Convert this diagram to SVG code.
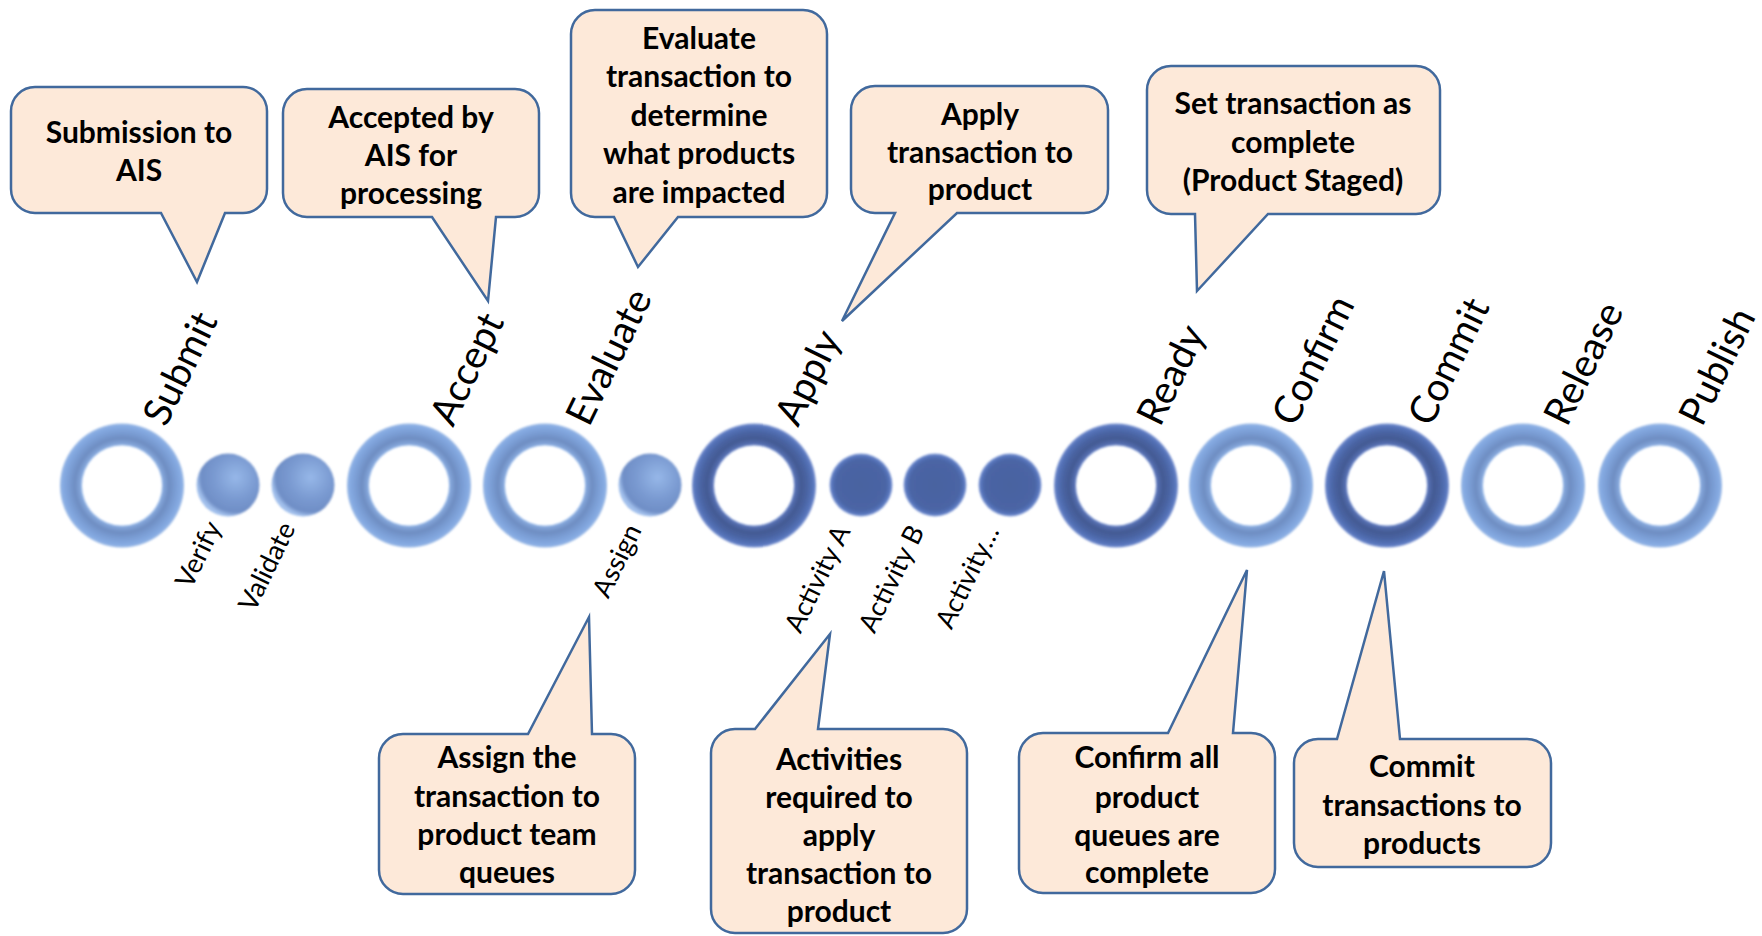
<svg xmlns="http://www.w3.org/2000/svg" width="1762" height="936" viewBox="0 0 1762 936">
<style>
.co{fill:#fde9d9;stroke:#41699d;stroke-width:2.5;stroke-linejoin:miter}
.ct{font-family:Lato,"Liberation Sans",sans-serif;font-weight:bold;font-size:30px;fill:#000;text-anchor:middle}
.up{font-family:Lato,"Open Sans","Liberation Sans",sans-serif;font-size:39px;fill:#000}
.lo{font-family:Lato,"Open Sans","Liberation Sans",sans-serif;font-size:27px;fill:#000;text-anchor:end}
.lr{fill:url(#gLight);fill-rule:evenodd;filter:url(#soft)}
.dr{fill:url(#gDark);fill-rule:evenodd;filter:url(#soft)}
.lb{fill:url(#gLBall);filter:url(#soft)}
.db{fill:url(#gDBall);filter:url(#soft)}
</style>
<defs>
<filter id="soft" x="-10%" y="-10%" width="120%" height="120%"><feGaussianBlur stdDeviation="0.9"/></filter>
<radialGradient id="gLight" cx="0.5" cy="0.5" r="0.5">
<stop offset="0.645" stop-color="#a3c3ef"/>
<stop offset="0.67" stop-color="#84a6da"/>
<stop offset="0.76" stop-color="#6e8dc2"/>
<stop offset="0.86" stop-color="#7a9dd4"/>
<stop offset="0.95" stop-color="#85aae2"/>
<stop offset="1" stop-color="#98b8e6"/>
</radialGradient>
<radialGradient id="gDark" cx="0.5" cy="0.5" r="0.5">
<stop offset="0.645" stop-color="#7c97d6"/>
<stop offset="0.67" stop-color="#566fb1"/>
<stop offset="0.76" stop-color="#435a93"/>
<stop offset="0.86" stop-color="#4a64a3"/>
<stop offset="0.95" stop-color="#5573b9"/>
<stop offset="1" stop-color="#7690d2"/>
</radialGradient>
<radialGradient id="gLBall" cx="0.62" cy="0.38" r="0.62">
<stop offset="0" stop-color="#96b7e8"/>
<stop offset="0.55" stop-color="#7a9ad1"/>
<stop offset="0.88" stop-color="#6f8ec6"/>
<stop offset="1" stop-color="#a2c0ec"/>
</radialGradient>
<radialGradient id="gDBall" cx="0.5" cy="0.5" r="0.5">
<stop offset="0" stop-color="#4a63a0"/>
<stop offset="0.8" stop-color="#4b65a5"/>
<stop offset="0.93" stop-color="#5876bd"/>
<stop offset="1" stop-color="#8aa3dd"/>
</radialGradient>
</defs>
<rect width="1762" height="936" fill="#ffffff"/>

<g id="stages">
<g id="submit"><path class="lr" d="M60,485.5a62,62 0 1,0 124,0a62,62 0 1,0 -124,0ZM82,485.5a40,40 0 1,0 80,0a40,40 0 1,0 -80,0Z"/><text class="up" transform="translate(166,428) rotate(-64)">Submit</text></g>
<g id="verify"><circle class="lb" cx="228" cy="485" r="31.5"/><text class="lo" transform="translate(222,527) rotate(-64)">Verify</text></g>
<g id="validate"><circle class="lb" cx="303" cy="485" r="31.5"/><text class="lo" transform="translate(296,528) rotate(-64)">Validate</text></g>
<g id="accept"><path class="lr" d="M347,485.5a62,62 0 1,0 124,0a62,62 0 1,0 -124,0ZM369,485.5a40,40 0 1,0 80,0a40,40 0 1,0 -80,0Z"/><text class="up" transform="translate(453,428) rotate(-64)">Accept</text></g>
<g id="evaluate"><path class="lr" d="M483,485.5a62,62 0 1,0 124,0a62,62 0 1,0 -124,0ZM505,485.5a40,40 0 1,0 80,0a40,40 0 1,0 -80,0Z"/><text class="up" transform="translate(589,428) rotate(-64)">Evaluate</text></g>
<g id="assign"><circle class="lb" cx="650" cy="485" r="31.5"/><text class="lo" transform="translate(642,530) rotate(-64)">Assign</text></g>
<g id="apply"><path class="dr" d="M692,485.5a62,62 0 1,0 124,0a62,62 0 1,0 -124,0ZM714,485.5a40,40 0 1,0 80,0a40,40 0 1,0 -80,0Z"/><text class="up" transform="translate(798,428) rotate(-64)">Apply</text></g>
<g id="activity-a"><circle class="db" cx="861" cy="485" r="31.5"/><text class="lo" transform="translate(851,531) rotate(-64)">Activity A</text></g>
<g id="activity-b"><circle class="db" cx="935" cy="485" r="31.5"/><text class="lo" transform="translate(925,531) rotate(-64)">Activity B</text></g>
<g id="activity-etc"><circle class="db" cx="1010" cy="485" r="31.5"/><text class="lo" transform="translate(1000,531) rotate(-64)">Activity…</text></g>
<g id="ready"><path class="dr" d="M1054,485.5a62,62 0 1,0 124,0a62,62 0 1,0 -124,0ZM1076,485.5a40,40 0 1,0 80,0a40,40 0 1,0 -80,0Z"/><text class="up" transform="translate(1160,428) rotate(-64)">Ready</text></g>
<g id="confirm"><path class="lr" d="M1189,485.5a62,62 0 1,0 124,0a62,62 0 1,0 -124,0ZM1211,485.5a40,40 0 1,0 80,0a40,40 0 1,0 -80,0Z"/><text class="up" transform="translate(1295,428) rotate(-64)">Confirm</text></g>
<g id="commit"><path class="dr" d="M1325,485.5a62,62 0 1,0 124,0a62,62 0 1,0 -124,0ZM1347,485.5a40,40 0 1,0 80,0a40,40 0 1,0 -80,0Z"/><text class="up" transform="translate(1431,428) rotate(-64)">Commit</text></g>
<g id="release"><path class="lr" d="M1461,485.5a62,62 0 1,0 124,0a62,62 0 1,0 -124,0ZM1483,485.5a40,40 0 1,0 80,0a40,40 0 1,0 -80,0Z"/><text class="up" transform="translate(1567,428) rotate(-64)">Release</text></g>
<g id="publish"><path class="lr" d="M1598,485.5a62,62 0 1,0 124,0a62,62 0 1,0 -124,0ZM1620,485.5a40,40 0 1,0 80,0a40,40 0 1,0 -80,0Z"/><text class="up" transform="translate(1702,428) rotate(-64)">Publish</text></g>
</g>

<g id="connectors"></g>

<g id="callout-submit"><path class="co" d="M35,87 H243 A24,24 0 0 1 267,111 V189 A24,24 0 0 1 243,213 H225 L197,282 L161,213 H35 A24,24 0 0 1 11,189 V111 A24,24 0 0 1 35,87 Z"/>
<text class="ct" x="139" y="143">Submission to</text><text class="ct" x="139" y="181">AIS</text></g>

<g id="callout-accept"><path class="co" d="M307,89 H515 A24,24 0 0 1 539,113 V193 A24,24 0 0 1 515,217 H496 L488,301 L432,217 H307 A24,24 0 0 1 283,193 V113 A24,24 0 0 1 307,89 Z"/>
<text class="ct" x="411" y="128">Accepted by</text><text class="ct" x="411" y="166">AIS for</text><text class="ct" x="411" y="204">processing</text></g>

<g id="callout-evaluate"><path class="co" d="M595,10 H803 A24,24 0 0 1 827,34 V193 A24,24 0 0 1 803,217 H678 L638,267 L614,217 H595 A24,24 0 0 1 571,193 V34 A24,24 0 0 1 595,10 Z"/>
<text class="ct" x="699" y="49">Evaluate</text><text class="ct" x="699" y="87">transaction to</text><text class="ct" x="699" y="126">determine</text><text class="ct" x="699" y="164">what products</text><text class="ct" x="699" y="203">are impacted</text></g>

<g id="callout-apply"><path class="co" d="M875,86 H1084 A24,24 0 0 1 1108,110 V189 A24,24 0 0 1 1084,213 H957 L842,321 L895,213 H875 A24,24 0 0 1 851,189 V110 A24,24 0 0 1 875,86 Z"/>
<text class="ct" x="980" y="125">Apply</text><text class="ct" x="980" y="163">transaction to</text><text class="ct" x="980" y="200">product</text></g>

<g id="callout-ready"><path class="co" d="M1171,66 H1416 A24,24 0 0 1 1440,90 V190 A24,24 0 0 1 1416,214 H1268 L1197,291 L1195,214 H1171 A24,24 0 0 1 1147,190 V90 A24,24 0 0 1 1171,66 Z"/>
<text class="ct" x="1293" y="114">Set transaction as</text><text class="ct" x="1293" y="153">complete</text><text class="ct" x="1293" y="191">(Product Staged)</text></g>

<g id="callout-assign"><path class="co" d="M403,734 H528 L589,617 L592,734 H611 A24,24 0 0 1 635,758 V870 A24,24 0 0 1 611,894 H403 A24,24 0 0 1 379,870 V758 A24,24 0 0 1 403,734 Z"/>
<text class="ct" x="507" y="768">Assign the</text><text class="ct" x="507" y="807">transaction to</text><text class="ct" x="507" y="845">product team</text><text class="ct" x="507" y="883">queues</text></g>

<g id="callout-activities"><path class="co" d="M735,729 H755 L830,634 L818,729 H943 A24,24 0 0 1 967,753 V909 A24,24 0 0 1 943,933 H735 A24,24 0 0 1 711,909 V753 A24,24 0 0 1 735,729 Z"/>
<text class="ct" x="839" y="770">Activities</text><text class="ct" x="839" y="808">required to</text><text class="ct" x="839" y="846">apply</text><text class="ct" x="839" y="884">transaction to</text><text class="ct" x="839" y="922">product</text></g>

<g id="callout-confirm"><path class="co" d="M1043,733 H1168 L1247,570 L1233,733 H1251 A24,24 0 0 1 1275,757 V869 A24,24 0 0 1 1251,893 H1043 A24,24 0 0 1 1019,869 V757 A24,24 0 0 1 1043,733 Z"/>
<text class="ct" x="1147" y="768">Confirm all</text><text class="ct" x="1147" y="808">product</text><text class="ct" x="1147" y="846">queues are</text><text class="ct" x="1147" y="883">complete</text></g>

<g id="callout-commit"><path class="co" d="M1318,739 H1337 L1384,571 L1400,739 H1527 A24,24 0 0 1 1551,763 V843 A24,24 0 0 1 1527,867 H1318 A24,24 0 0 1 1294,843 V763 A24,24 0 0 1 1318,739 Z"/>
<text class="ct" x="1422" y="777">Commit</text><text class="ct" x="1422" y="816">transactions to</text><text class="ct" x="1422" y="854">products</text></g>
</svg>
